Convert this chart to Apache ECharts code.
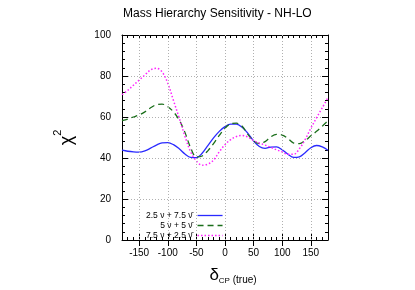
<!DOCTYPE html>
<html><head><meta charset="utf-8">
<script src="https://cdn.jsdelivr.net/npm/echarts@6/dist/echarts.min.js"></script>
<style>html,body{margin:0;padding:0;background:#fff}#c{width:415px;height:290px}</style>
</head><body><div id="c"></div>
<script>
const deltaCP = [-180,-170,-160,-150,-140,-130,-120,-110,-100,-90,-80,-70,-60,-50,-40,-30,-20,-10,0,10,20,30,40,50,60,70,80,90,100,110,120,130,140,150,160,170,180];
const chi2_25nu_75nubar = [43.8,43.3,43.0,42.9,43.5,44.8,46.3,47.4,47.5,46.5,44.5,42.0,40.3,40.2,42.3,46.0,49.8,53.0,55.3,56.5,56.5,55.0,52.0,48.3,45.6,44.7,45.3,45.4,44.0,41.8,40.3,40.6,42.6,45.0,46.1,45.4,43.8];
const chi2_5nu_5nubar = [58.2,59.0,60.0,61.0,62.5,64.5,66.0,66.3,65.0,62.5,58.5,52.5,45.0,40.5,41.0,43.5,47.0,51.0,54.5,56.7,57.0,55.5,51.5,48.3,47.0,48.0,50.3,51.5,51.2,49.5,47.3,47.0,48.5,50.8,53.0,55.5,58.2];
const chi2_75nu_25nubar = [70.9,73.0,75.5,78.0,80.5,83.0,83.8,82.0,76.5,68.0,59.5,50.6,43.0,38.5,36.5,37.0,39.0,43.0,46.5,49.0,50.5,51.0,50.2,48.5,47.3,46.3,45.2,44.0,43.0,41.8,41.8,44.5,49.0,54.5,59.6,64.5,69.5];
const seriesNames = ['2.5 \u03bd + 7.5 \u03bd\u0304', '5 \u03bd + 5 \u03bd\u0304', '7.5 \u03bd + 2.5 \u03bd\u0304'];
const xMajorTicks = [-150,-100,-50,0,50,100,150];
const yTicks = [0,20,40,60,80,100];
const titleText = 'Mass Hierarchy Sensitivity - NH-LO';

const FONT = 'Liberation Sans, Arial, sans-serif';
const chart = echarts.init(document.getElementById('c'), null, {renderer:'canvas'});
const pair = arr => deltaCP.map((d,i)=>[d, arr[i]]);
const black = {color:'#000', width:1};
const grid = {color:'#b0b0b0', width:1, type:[1,2]};

const baseX = (pos, extra) => Object.assign({
  type:'value', min:-180, max:180, interval:10, position:pos,
  axisLine:{show:true, onZero:false, lineStyle:black},
  axisTick:{show:true, inside:true, length:3, lineStyle:black},
  axisLabel:{show:false}, splitLine:{show:false}
}, extra);

const option = {
  animation:false,
  backgroundColor:'#fff',
  textStyle:{fontFamily:FONT},
  title:{text:titleText, left:123, top:8, padding:0,
    textStyle:{fontSize:12, fontWeight:'normal', color:'#000', fontFamily:FONT}},
  grid:{left:122, right:87, top:35, bottom:49},
  legend:{data:seriesNames, orient:'vertical', align:'right', left:146, top:211, padding:0,
    itemGap:1, itemWidth:25, itemHeight:8,
    itemStyle:{color:'rgba(0,0,0,0)', borderWidth:0, opacity:0},
    lineStyle:{width:1.3},
    textStyle:{fontSize:8.5, color:'#000', fontFamily:FONT}},
  xAxis:[
    baseX('bottom', {
      axisLabel:{show:true, formatter:v => xMajorTicks.includes(v) ? String(v) : '', margin:8, fontSize:10, color:'#000', fontFamily:FONT},
      name:'{d|\u03b4}{s|CP}{t| (true)}', nameLocation:'middle', nameGap:27,
      nameTextStyle:{padding:[0,0,0,16], rich:{
        d:{fontSize:17, color:'#000', fontFamily:FONT, verticalAlign:'top'},
        s:{fontSize:8, color:'#000', fontFamily:FONT, verticalAlign:'bottom', padding:[10,0,0,0]},
        t:{fontSize:10, color:'#000', fontFamily:FONT, verticalAlign:'bottom', padding:[7,0,0,0]}
      }}
    }),
    baseX('top', {}),
    baseX('bottom', {axisLine:{show:false}, axisTick:{show:true, inside:true, length:6, lineStyle:black, customValues:xMajorTicks}}),
    baseX('top', {axisLine:{show:false}, axisTick:{show:true, inside:true, length:6, lineStyle:black, customValues:xMajorTicks}})
  ],
  yAxis:[
    {type:'value', min:0, max:100, interval:20, position:'left',
     axisLine:{show:true, onZero:false, lineStyle:black},
     axisTick:{show:true, inside:true, length:6, lineStyle:black},
     minorTick:{show:true, splitNumber:5, length:3, lineStyle:black},
     splitLine:{show:true, lineStyle:grid},
     axisLabel:{formatter:v => yTicks.includes(v) ? String(v) : '', margin:11, fontSize:10, color:'#000', fontFamily:FONT},
     name:'{c|\u03c7}{s|2}', nameLocation:'middle', nameRotate:90, nameGap:46,
     nameTextStyle:{rich:{
       c:{fontSize:18, color:'#000', fontFamily:FONT, verticalAlign:'bottom', padding:[6,0,0,0]},
       s:{fontSize:11, color:'#000', fontFamily:FONT, verticalAlign:'top'}
     }}},
    {type:'value', min:0, max:100, interval:20, position:'right',
     axisLine:{show:true, onZero:false, lineStyle:black},
     axisTick:{show:true, inside:true, length:6, lineStyle:black},
     minorTick:{show:true, splitNumber:5, length:3, lineStyle:black},
     splitLine:{show:false}, axisLabel:{show:false}}
  ],
  series:[
    {type:'line', name:'grid', data:[], silent:true, z:1,
     markLine:{silent:true, symbol:['none','none'], label:{show:false}, lineStyle:grid,
       data:xMajorTicks.map(v=>({xAxis:v}))}},
    {type:'line', name:seriesNames[0], data:pair(chi2_25nu_75nubar), smooth:0.35, symbol:'none', z:3,
     lineStyle:{color:'#2a2aff', width:1.3, type:'solid'}, itemStyle:{color:'#2a2aff'}},
    {type:'line', name:seriesNames[1], data:pair(chi2_5nu_5nubar), smooth:0.35, symbol:'none', z:3,
     lineStyle:{color:'#1a6e1a', width:1.3, type:[6,4]}, itemStyle:{color:'#1a6e1a'}},
    {type:'line', name:seriesNames[2], data:pair(chi2_75nu_25nubar), smooth:0.35, symbol:'none', z:3,
     lineStyle:{color:'#ff22ff', width:1.5, type:[1.5,2]}, itemStyle:{color:'#ff22ff'}}
  ]
};
chart.setOption(option);
</script></body></html>
